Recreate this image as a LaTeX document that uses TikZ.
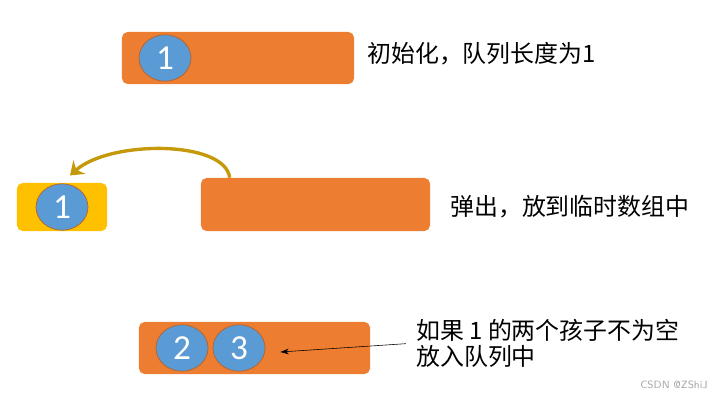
\documentclass[tikz,border=0pt]{standalone}
\usepackage{fontspec}
\newfontfamily\cjk{Noto Sans CJK SC}
\newfontfamily\numfont{Carlito}
\usetikzlibrary{arrows.meta}
\usetikzlibrary{shapes.geometric}
\usetikzlibrary{calc}
\definecolor{barOrange}{HTML}{ED7D31}
\definecolor{ballBlue}{HTML}{5B9BD5}
\definecolor{ballEdge}{HTML}{B4622B}
\definecolor{tmpYellow}{HTML}{FFC000}
\definecolor{popArrow}{HTML}{C49A0A}
\tikzset{
	bar/.style={fill=barOrange, rounded corners=4pt, inner sep=0pt},
	ball/.style={ellipse, fill=ballBlue, draw=ballEdge, line width=0.5pt, inner sep=0pt,
		minimum width=1.3cm, minimum height=1.16cm, text=white,
		font=\numfont\fontsize{25}{30}\selectfont},
	label/.style={anchor=west, inner sep=0pt, align=left,
		font=\cjk\fontsize{17}{18.5}\selectfont}
}

\begin{document}
\begin{tikzpicture}[x=0.025cm, y=-0.025cm]
%%%%%%%%%%%%%%%%%%
\useasboundingbox (0,0) rectangle (721,400);

%Init queue
	\node[bar, minimum width=5.8cm, minimum height=1.3cm] (initBar) at (238,58) {};
	\node[ball] (ballA) at (165,58) {1};
	\node[label] (initText) at (367,54) {初始化，队列长度为1};

%Pop to temp array
	\node[bar, fill=tmpYellow, minimum width=2.25cm, minimum height=1.2cm] (tmpBox) at (62,207) {};
	\node[ball] (ballPop) at (62,207) {1};
	\node[bar, minimum width=5.725cm, minimum height=1.325cm] (popBar) at (315.5,204.5) {};
	\node[label] (popText) at (450,207) {弹出，放到临时数组中};
	\coordinate (popFrom) at ($(popBar.north west)+(29,0)$);
	\draw[popArrow, line width=2.4pt, -{Stealth[length=9pt, width=13pt, inset=3pt]}]
		(popFrom) .. controls (225,140) and (110,140) .. ($(ballPop.north)+(8,-8)$);

%Children pushed
	\node[bar, minimum width=5.775cm, minimum height=1.3cm] (pushBar) at (254.5,348) {};
	\foreach \n/\x in {2/182,3/239}
	{
		\node[ball] (ball\n) at (\x,348) {\n};
	}
	\node[label] (pushText) at (416,343) {如果 1 的两个孩子不为空\\放入队列中};
	\draw[-{Stealth[length=6pt, width=4pt]}, thin, shorten <=18\pgflinewidth]
		(pushText.west) -- ($(ball3.east)+(15,4)$);

% watermark
	\node[anchor=east, inner sep=0pt, text=gray!70, font=\fontsize{7.5}{9}\sffamily] (mark) at (708,385) {CSDN @ZShiJ};

\end{tikzpicture}
\end{document}
